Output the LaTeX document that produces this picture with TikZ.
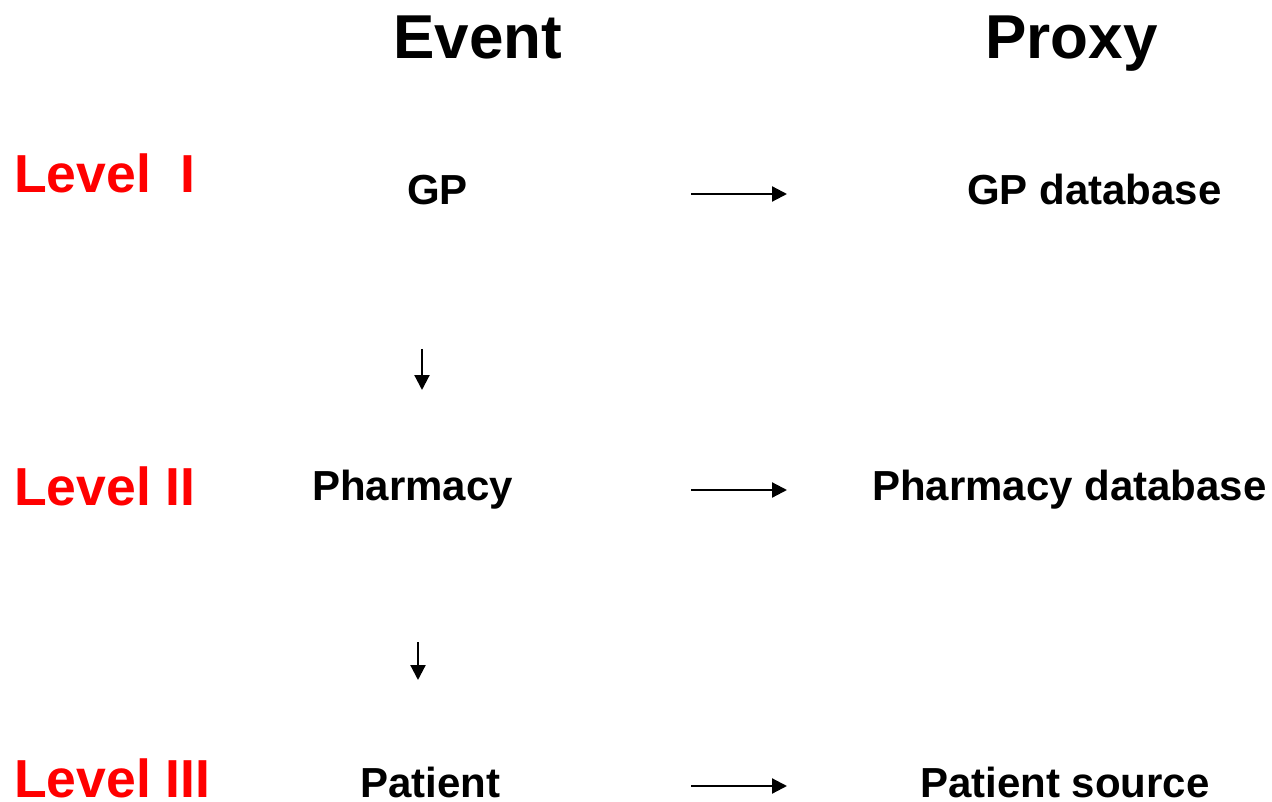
\documentclass[tikz,border=0pt]{standalone}
\usepackage{fontspec}
\setmainfont{Liberation Sans}
\usetikzlibrary{arrows.meta}
\definecolor{lvlred}{RGB}{255,0,0}
\tikzset{
  txt/.style={anchor=base west, inner sep=0pt, font=\bfseries\fontsize{42}{50}\selectfont},
  head/.style={anchor=base west, inner sep=0pt, font=\bfseries\fontsize{62}{72}\selectfont},
  lvl/.style={anchor=base west, inner sep=0pt, text=lvlred, font=\bfseries\fontsize{53.5}{60}\selectfont},
  arr/.style={line width=2.2pt, -{Triangle[length=15pt,width=15pt]}}
}
\begin{document}
\begin{tikzpicture}[x=1pt,y=-1pt]
\useasboundingbox (0,0) rectangle (1272,802);
% headers
\node[head] (event) at (393,59) {Event};
\node[head] (proxy) at (985,59) {Proxy};
% levels
\node[lvl] (l1) at (14,193) {Level\ \ I};
\node[lvl] (l2) at (14,505) {Level II};
\node[lvl] (l3) at (14,797) {Level III};
% events
\node[txt] (gp) at (407,205) {GP};
\node[txt] (ph) at (312,500) {Pharmacy};
\node[txt] (pa) at (360,797) {Patient};
% proxies
\node[txt] (gpd) at (967,205) {GP database};
\node[txt] (phd) at (872,500) {Pharmacy database};
\node[txt] (pas) at (920,797) {Patient source};
% arrow endpoints
\coordinate (h1a) at (691,194); \coordinate (h1b) at (787,194);
\coordinate (h2a) at (691,490); \coordinate (h2b) at (787,490);
\coordinate (h3a) at (691,786); \coordinate (h3b) at (787,786);
\coordinate (v1a) at (422,349); \coordinate (v1b) at (422,390);
\coordinate (v2a) at (418,642); \coordinate (v2b) at (418,680);
\draw[arr] (h1a) -- (h1b);
\draw[arr] (h2a) -- (h2b);
\draw[arr] (h3a) -- (h3b);
\draw[arr] (v1a) -- (v1b);
\draw[arr] (v2a) -- (v2b);
\end{tikzpicture}
\end{document}
